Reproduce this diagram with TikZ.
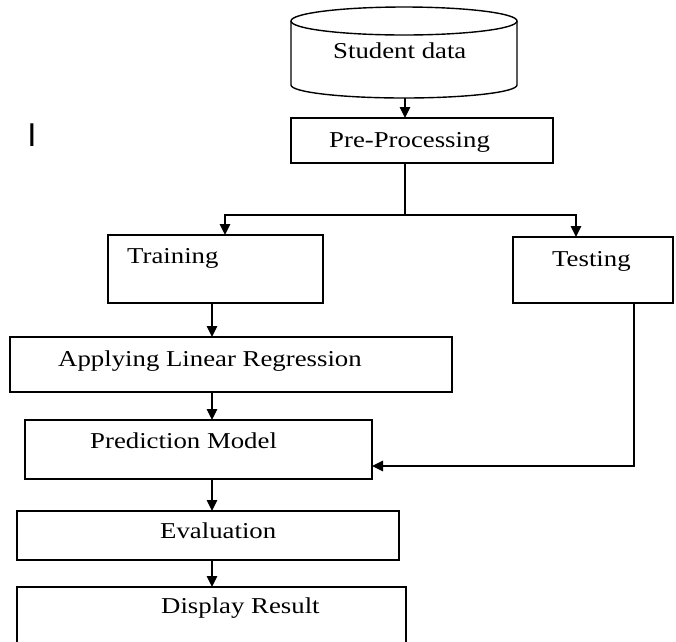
\documentclass[tikz,border=0pt]{standalone}
\usepackage{fontspec}
\setmainfont{Liberation Serif}[FakeStretch=1.18]
\newfontfamily\barfont{Liberation Sans}
\usetikzlibrary{arrows.meta}

\tikzset{
    box/.style={draw, line width=1.4pt, inner sep=0pt, outer sep=0pt},
    txt/.style={anchor=base west, inner sep=0pt, font=\fontsize{22.7}{27}\selectfont},
    arr/.style={line width=1.4pt, -{Triangle[width=10.5pt,length=11pt]}},
}

\begin{document}
\begin{tikzpicture}[x=1pt, y=-1pt]

            \useasboundingbox (0,0) rectangle (676,641);
            \clip (0,0) rectangle (676,641);

            % database
            \node[inner sep=0pt, minimum width=226pt, minimum height=92pt] (db) at (404,52) {};
            \draw[line width=1.4pt] (291,21) -- (291,85) arc [start angle=180, end angle=360, x radius=113pt, y radius=13pt] -- (517,21);
            \draw[line width=1.4pt] (404,21) ellipse [x radius=113pt, y radius=14pt];
            \node[txt] (tdb) at (333,58) {Student data};

            % boxes
            \node[box, minimum width=262pt, minimum height=45pt] (pre) at (422,140.5) {};
            \node[box, minimum width=215pt, minimum height=68pt] (train) at (215.5,269) {};
            \node[box, minimum width=160pt, minimum height=66pt] (test) at (593,270) {};
            \node[box, minimum width=442pt, minimum height=55pt] (apply) at (231,364.5) {};
            \node[box, minimum width=347pt, minimum height=59pt] (pred) at (198.5,449.5) {};
            \node[box, minimum width=382pt, minimum height=49pt] (eval) at (208,535.5) {};
            \node[box, minimum width=389pt, minimum height=63pt] (disp) at (211.5,618.5) {};

            \node[txt] (tpre) at (329,147) {Pre-Processing};
            \node[txt] (ttrain) at (127,263) {Training};
            \node[txt] (ttest) at (552,266) {Testing};
            \node[txt] (tapply) at (58,366) {Applying Linear Regression};
            \node[txt] (tpred) at (90,448) {Prediction Model};
            \node[txt] (teval) at (160,538) {Evaluation};
            \node[txt] (tdisp) at (161,613) {Display Result};

            \node[anchor=base, inner sep=0pt, font=\barfont\fontsize{33}{36}\selectfont] (mark) at (32,146) {I};

            % connectors
            \coordinate (split) at (405,215);
            \coordinate (ltee) at (225,215);
            \coordinate (rtee) at (576,215);
            \coordinate (trunk) at (212,0);
            \coordinate (fb) at (634,466);

            \draw[arr] (split |- db.south) -- (split |- pre.north);
            \draw[line width=1.4pt] (split |- pre.south) -- (split);
            \draw[arr] (split) -- (ltee) -- (ltee |- train.north);
            \draw[arr] (split) -- (rtee) -- (rtee |- test.north);

            \draw[arr] (trunk |- train.south) -- (trunk |- apply.north);
            \draw[arr] (trunk |- apply.south) -- (trunk |- pred.north);
            \draw[arr] (trunk |- pred.south) -- (trunk |- eval.north);
            \draw[arr] (trunk |- eval.south) -- (trunk |- disp.north);

            \draw[arr] (fb |- test.south) -- (fb) -- (pred.east |- fb);

\end{tikzpicture}
\end{document}
